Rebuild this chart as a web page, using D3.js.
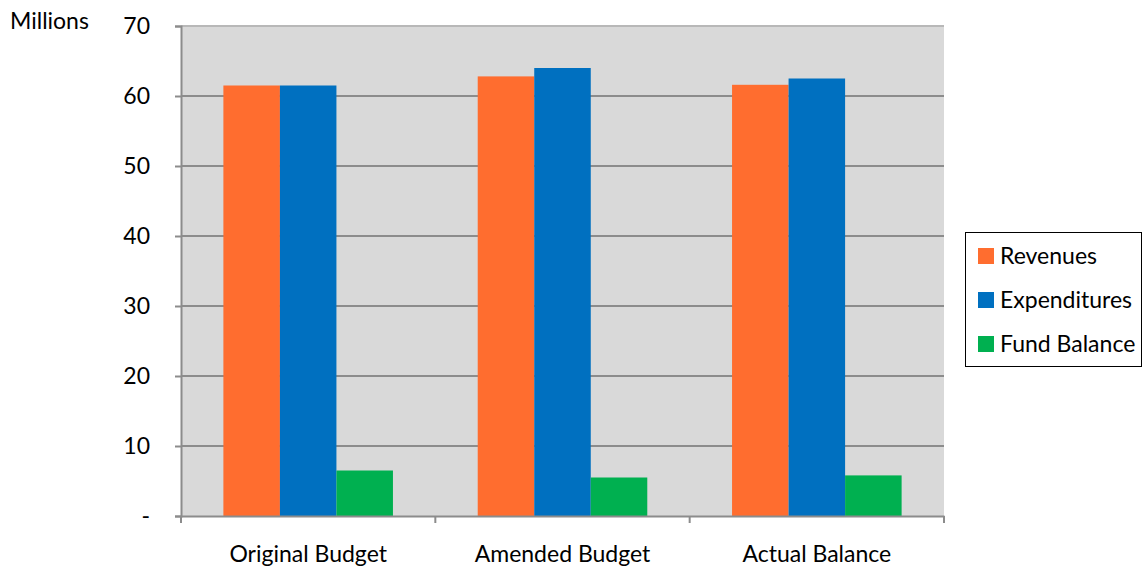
<!DOCTYPE html>
<html>
<head>
<meta charset="utf-8">
<script src="https://cdn.jsdelivr.net/npm/d3@7"></script>
<style>
body { margin: 0; background: #fff; }
text { font-family: Lato, "Open Sans", sans-serif; fill: #000; }
</style>
</head>
<body>
<svg id="chart" width="1142" height="570"></svg>
<script>
var categories = ["Original Budget", "Amended Budget", "Actual Balance"];
var seriesNames = ["Revenues", "Expenditures", "Fund Balance"];
var revenues = [61.5, 62.8, 61.6];
var expenditures = [61.5, 64.0, 62.5];
var fundBalance = [6.5, 5.5, 5.8];
var yTicks = [0, 10, 20, 30, 40, 50, 60, 70];
var colors = ["#FF6D2F", "#0070C0", "#00B050"];

var svg = d3.select("#chart");
var chart = { left: 181, right: 944, top: 26, bottom: 516 };
var fs = 23;

var data = categories.map(function(c, i) {
	return { cat: c, bars: [
		{ key: seriesNames[0], value: revenues[i] },
		{ key: seriesNames[1], value: expenditures[i] },
		{ key: seriesNames[2], value: fundBalance[i] }
	]};
});

var x0 = d3.scaleBand().domain(categories).range([chart.left, chart.right]).paddingInner(0).paddingOuter(0);
var x1 = d3.scaleBand().domain(seriesNames).range([x0.bandwidth() / 6, x0.bandwidth() * 5 / 6]);
var y = d3.scaleLinear().domain([0, 70]).range([chart.bottom, chart.top]);
var color = d3.scaleOrdinal().domain(seriesNames).range(colors);

// plot background
svg.append("rect")
	.attr("x", chart.left).attr("y", chart.top)
	.attr("width", chart.right - chart.left).attr("height", chart.bottom - chart.top)
	.attr("fill", "#D9D9D9");

// gridlines
svg.append("g").selectAll("line")
	.data(yTicks.slice(1)).enter().append("line")
	.attr("x1", chart.left).attr("x2", chart.right)
	.attr("y1", function(d) { return y(d); }).attr("y2", function(d) { return y(d); })
	.attr("stroke", function(d) { return d === 70 ? "#B8B8B8" : "#8C8C8C"; })
	.attr("stroke-width", 2);

// bars
var groups = svg.selectAll(".group")
	.data(data).enter().append("g")
	.attr("class", "group")
	.attr("transform", function(d) { return "translate(" + x0(d.cat) + ",0)"; });

groups.selectAll("rect")
	.data(function(d) { return d.bars; })
	.enter().append("rect")
	.attr("x", function(d) { return x1(d.key); })
	.attr("y", function(d) { return y(d.value); })
	.attr("width", x1.bandwidth())
	.attr("height", function(d) { return chart.bottom - y(d.value); })
	.attr("fill", function(d) { return color(d.key); });

// y axis
var yAxis = svg.append("g")
	.attr("transform", "translate(" + chart.left + ",0)")
	.call(d3.axisLeft(y).tickValues(yTicks).tickSize(6).tickPadding(25)
		.tickFormat(function(d) { return d === 0 ? "-" : d; }));
yAxis.select(".domain").attr("stroke", "#8C8C8C").attr("stroke-width", 2);
yAxis.selectAll(".tick line").attr("stroke", "#8C8C8C").attr("stroke-width", 2);
yAxis.selectAll(".tick text").attr("font-size", fs).attr("font-family", "Lato, sans-serif").attr("fill", "#000");

// x axis
var xAxis = svg.append("g")
	.attr("transform", "translate(0," + chart.bottom + ")")
	.call(d3.axisBottom(x0).tickSize(0).tickPadding(30));
xAxis.select(".domain").attr("stroke", "#8C8C8C").attr("stroke-width", 2);
xAxis.selectAll(".tick text").attr("font-size", fs).attr("font-family", "Lato, sans-serif").attr("fill", "#000");
// category boundary ticks
var bounds = [chart.left].concat(categories.map(function(c) { return x0(c) + x0.bandwidth(); }));
svg.append("g").selectAll("line")
	.data(bounds).enter().append("line")
	.attr("x1", function(d) { return d; }).attr("x2", function(d) { return d; })
	.attr("y1", chart.bottom).attr("y2", chart.bottom + 7)
	.attr("stroke", "#8C8C8C").attr("stroke-width", 2);

// unit label
svg.append("text").attr("x", 10).attr("y", 29).attr("font-size", fs).text("Millions");

// legend
var legend = svg.append("g").attr("transform", "translate(965,232)");
legend.append("rect").attr("x", 0.5).attr("y", 0.5).attr("width", 176).attr("height", 134)
	.attr("fill", "#fff").attr("stroke", "#000").attr("stroke-width", 1);
var items = legend.selectAll(".item").data(seriesNames).enter().append("g")
	.attr("transform", function(d, i) { return "translate(0," + (24 + i * 44) + ")"; });
items.append("rect").attr("x", 13).attr("y", -8).attr("width", 16).attr("height", 16)
	.attr("fill", function(d) { return color(d); });
items.append("text").attr("x", 35).attr("y", 8).attr("font-size", fs).text(function(d) { return d; });
</script>
</body>
</html>
